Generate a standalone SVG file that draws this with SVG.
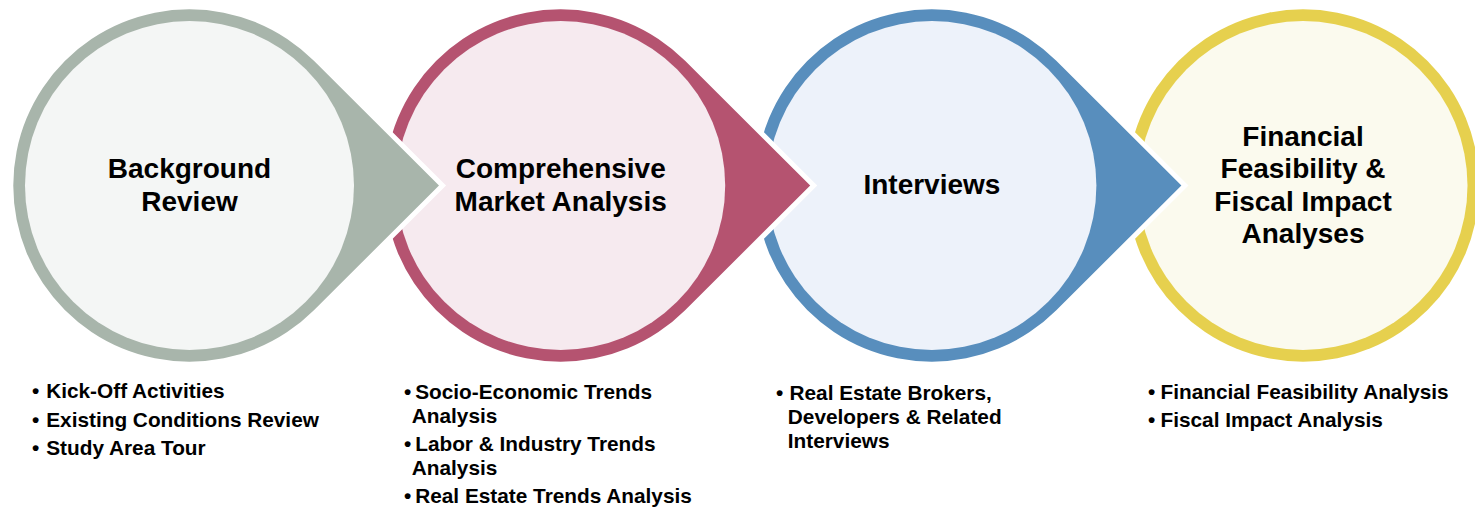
<svg xmlns="http://www.w3.org/2000/svg" xmlns:xlink="http://www.w3.org/1999/xlink" width="1475" height="507" viewBox="0 0 1475 507">
  <style>
    .title { font-family: "Liberation Sans", Arial, sans-serif; font-weight: bold; font-size: 28px; fill: #000; text-anchor: middle; }
    .item { font-family: "Liberation Sans", Arial, sans-serif; font-weight: bold; font-size: 20.8px; fill: #000; }
    .drop { stroke: #fff; stroke-width: 10; stroke-linejoin: miter; paint-order: stroke; }
    .grey-ring { fill: #A8B5AB; }   .grey-fill { fill: #F4F6F5; }
    .pink-ring { fill: #B55370; }   .pink-fill { fill: #F6EAEF; }
    .blue-ring { fill: #588EBD; }   .blue-fill { fill: #EDF2FA; }
    .gold-ring { fill: #E6D04E; }   .gold-fill { fill: #FBFAEE; }
  </style>
  <defs>
    <!-- teardrop: circle r=176.2 centred at origin with a tangent point at x=249.5 -->
    <path id="drop" d="M 249.5 0 L 124.4 -124.75 A 176.2 176.2 0 1 0 124.4 124.75 Z"/>
  </defs>

  <!-- stages are painted right to left so each arrow tip lies over the next stage -->
  <g id="stage-4" transform="translate(1303 185.5)">
    <circle class="gold-ring drop" r="176.2"/>
    <circle class="gold-fill" r="164.5"/>
    <text class="title" x="0" y="-39.8">Financial</text>
    <text class="title" x="0" y="-7.2">Feasibility &amp;</text>
    <text class="title" x="0" y="25.5">Fiscal Impact</text>
    <text class="title" x="0" y="57.8">Analyses</text>
  </g>

  <g id="stage-3" transform="translate(931.9 185.5)">
    <use xlink:href="#drop" class="blue-ring drop"/>
    <circle class="blue-fill" r="164.5"/>
    <text class="title" x="0" y="8.8">Interviews</text>
  </g>

  <g id="stage-2" transform="translate(560.7 185.5)">
    <use xlink:href="#drop" class="pink-ring drop"/>
    <circle class="pink-fill" r="164.5"/>
    <text class="title" x="0" y="-7.2">Comprehensive</text>
    <text class="title" x="0" y="25.2">Market Analysis</text>
  </g>

  <g id="stage-1" transform="translate(189.5 185.5)">
    <use xlink:href="#drop" class="grey-ring drop"/>
    <circle class="grey-fill" r="164.5"/>
    <text class="title" x="0" y="-7.2">Background</text>
    <text class="title" x="0" y="25.2">Review</text>
  </g>

  <!-- task lists under each stage -->
  <g id="tasks-1">
    <text class="item" x="32" y="398.3">•</text>
    <text class="item" x="46.2" y="398.3">Kick-Off Activities</text>
    <text class="item" x="32" y="426.7">•</text>
    <text class="item" x="46.2" y="426.7">Existing Conditions Review</text>
    <text class="item" x="32" y="455">•</text>
    <text class="item" x="46.2" y="455">Study Area Tour</text>
  </g>

  <g id="tasks-2">
    <text class="item" x="404" y="399">•</text>
    <text class="item" x="415.2" y="399">Socio-Economic Trends</text>
    <text class="item" x="411.8" y="422.5">Analysis</text>
    <text class="item" x="404" y="451">•</text>
    <text class="item" x="415.2" y="451">Labor &amp; Industry Trends</text>
    <text class="item" x="411.8" y="474.5">Analysis</text>
    <text class="item" x="404" y="503">•</text>
    <text class="item" x="415.2" y="503">Real Estate Trends Analysis</text>
  </g>

  <g id="tasks-3">
    <text class="item" x="776" y="400">•</text>
    <text class="item" x="789.5" y="400">Real Estate Brokers,</text>
    <text class="item" x="787.8" y="424">Developers &amp; Related</text>
    <text class="item" x="787.8" y="448">Interviews</text>
  </g>

  <g id="tasks-4">
    <text class="item" x="1148" y="399">•</text>
    <text class="item" x="1160.5" y="399">Financial Feasibility Analysis</text>
    <text class="item" x="1148" y="427.3">•</text>
    <text class="item" x="1160.5" y="427.3">Fiscal Impact Analysis</text>
  </g>

  <g id="connectors"/>
</svg>
